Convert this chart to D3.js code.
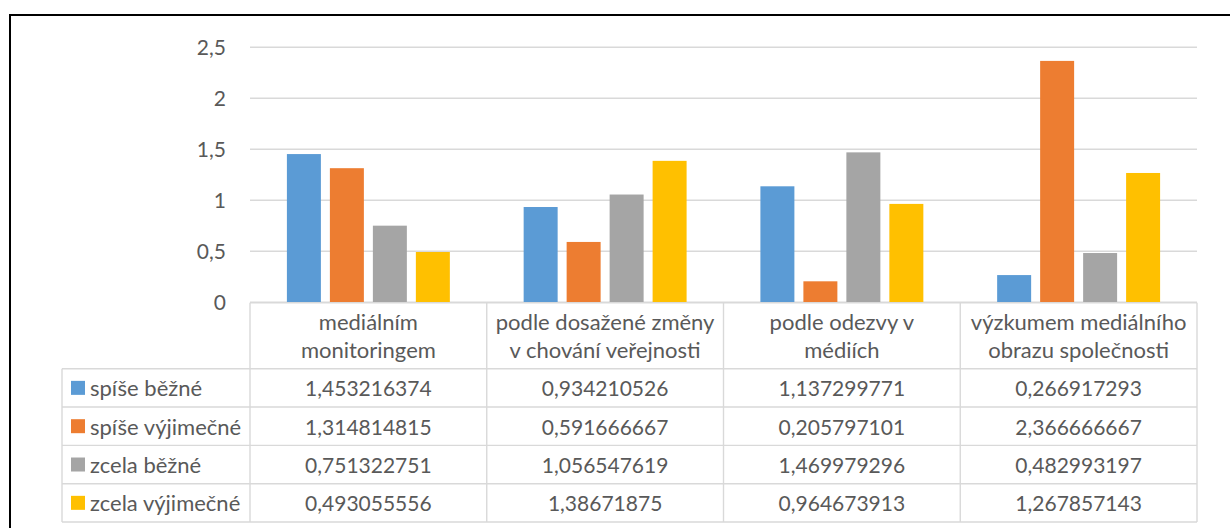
<!DOCTYPE html>
<html>
<head>
<meta charset="utf-8">
<script src="https://cdn.jsdelivr.net/npm/d3@7"></script>
<style>
  html, body { margin: 0; padding: 0; background: #fff; }
  svg { display: block; }
  text { font-family: Lato, "Open Sans", sans-serif; fill: #595959; }
</style>
</head>
<body>
<svg id="chart" width="1230" height="528"></svg>
<script>
// Category labels (each entry is the wrapped lines of one column header)
const categories = [
  ["mediálním", "monitoringem"],
  ["podle dosažené změny", "v chování veřejnosti"],
  ["podle odezvy v", "médiích"],
  ["výzkumem mediálního", "obrazu společnosti"]
];
const seriesNames = ["spíše běžné", "spíše výjimečné", "zcela běžné", "zcela výjimečné"];
const seriesColors = ["#5B9BD5", "#ED7D31", "#A5A5A5", "#FFC000"];
const spiseBezne      = [1.453216374, 0.934210526, 1.137299771, 0.266917293];
const spiseVyjimecne  = [1.314814815, 0.591666667, 0.205797101, 2.366666667];
const zcelaBezne      = [0.751322751, 1.056547619, 1.469979296, 0.482993197];
const zcelaVyjimecne  = [0.493055556, 1.38671875, 0.964673913, 1.267857143];
const yTicks = [0, 0.5, 1, 1.5, 2, 2.5];

const series = [spiseBezne, spiseVyjimecne, zcelaBezne, zcelaVyjimecne];

const svg = d3.select("#chart");
const fmt = v => String(v).replace(".", ",");
const numSize = 21, labelSize = 22;

// Outer frame
svg.append("rect")
  .attr("x", 10).attr("y", 15).attr("width", 1240).attr("height", 540)
  .attr("fill", "none").attr("stroke", "#000").attr("stroke-width", 2);

const plot = { left: 250, right: 1197, top: 47.3, bottom: 302.3 };

const y = d3.scaleLinear().domain([0, 2.5]).range([plot.bottom, plot.top]);
const x0 = d3.scaleBand().domain(d3.range(categories.length))
  .range([plot.left, plot.right]).padding(0);
const outer = 36.9;
const x1 = d3.scaleBand().domain(d3.range(series.length))
  .range([outer, x0.bandwidth() - outer]).paddingInner(9 / 43).paddingOuter(0);

// Gridlines
svg.append("g").selectAll("line").data(yTicks).join("line")
  .attr("x1", plot.left).attr("x2", plot.right)
  .attr("y1", d => y(d)).attr("y2", d => y(d))
  .attr("stroke", "#D9D9D9").attr("stroke-width", 1.4);

// Y tick labels
const yAxis = d3.axisLeft(y).tickValues(yTicks).tickSize(0).tickPadding(0)
  .tickFormat(d => fmt(d));
const yG = svg.append("g").attr("transform", "translate(226,0)").call(yAxis);
yG.select(".domain").remove();
yG.selectAll("text")
  .attr("font-family", "Lato, 'Open Sans', sans-serif")
  .attr("font-size", numSize).attr("fill", "#595959");

// Bars
const groups = svg.append("g").selectAll("g").data(categories).join("g")
  .attr("transform", (d, i) => `translate(${x0(i)},0)`);
groups.selectAll("rect")
  .data((d, i) => series.map((s, j) => ({ j, v: s[i] })))
  .join("rect")
  .attr("x", d => x1(d.j))
  .attr("width", x1.bandwidth())
  .attr("y", d => y(d.v))
  .attr("height", d => y(0) - y(d.v))
  .attr("fill", d => seriesColors[d.j]);

// Data table
const tbl = svg.append("g");
const headerTop = 302.7, headerBottom = 368.7, tableBottom = 522;
const rowH = (tableBottom - headerBottom) / series.length;
const legendLeft = 62;
const gridStroke = "#D9D9D9";

// horizontal lines
tbl.append("line").attr("x1", plot.left).attr("x2", plot.right)
  .attr("y1", headerTop).attr("y2", headerTop);
d3.range(series.length + 1).forEach(k => {
  const yy = headerBottom + k * rowH;
  tbl.append("line").attr("x1", legendLeft).attr("x2", plot.right)
    .attr("y1", yy).attr("y2", yy);
});
// vertical lines
tbl.append("line").attr("x1", legendLeft).attr("x2", legendLeft)
  .attr("y1", headerBottom).attr("y2", tableBottom);
d3.range(categories.length + 1).forEach(k => {
  const xx = plot.left + k * x0.bandwidth();
  tbl.append("line").attr("x1", xx).attr("x2", xx)
    .attr("y1", headerTop).attr("y2", tableBottom);
});
tbl.selectAll("line").attr("stroke", gridStroke).attr("stroke-width", 1.4);

// header labels
categories.forEach((lines, i) => {
  const cx = x0(i) + x0.bandwidth() / 2;
  const cy = (headerTop + headerBottom) / 2;
  lines.forEach((ln, k) => {
    tbl.append("text")
      .attr("x", cx).attr("y", cy + (k - (lines.length - 1) / 2) * 28.5)
      .attr("text-anchor", "middle").attr("dominant-baseline", "central")
      .attr("font-size", labelSize).text(ln);
  });
});

// legend keys + values
series.forEach((s, j) => {
  const cy = headerBottom + j * rowH + rowH / 2;
  tbl.append("rect").attr("x", 71).attr("y", cy - 7).attr("width", 14).attr("height", 14)
    .attr("fill", seriesColors[j]);
  tbl.append("text").attr("x", 90).attr("y", cy)
    .attr("dominant-baseline", "central").attr("font-size", labelSize).text(seriesNames[j]);
  s.forEach((v, i) => {
    tbl.append("text")
      .attr("x", x0(i) + x0.bandwidth() / 2).attr("y", cy)
      .attr("text-anchor", "middle").attr("dominant-baseline", "central")
      .attr("font-size", numSize).text(fmt(v));
  });
});
</script>
</body>
</html>
